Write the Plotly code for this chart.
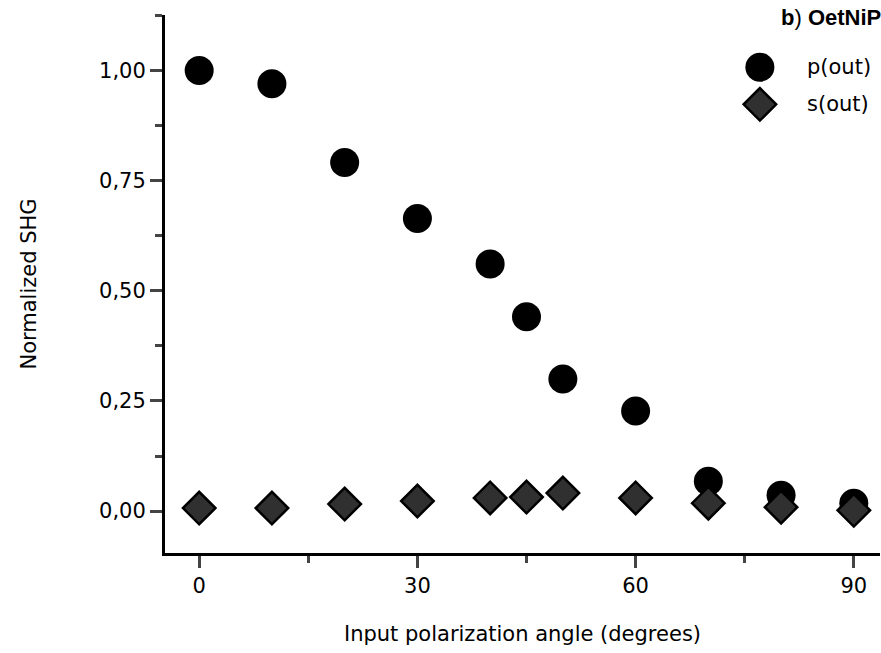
import plotly.graph_objects as go

angles = [0, 10, 20, 30, 40, 45, 50, 60, 70, 80, 90]
p_out = [1.00, 0.970, 0.791, 0.664, 0.561, 0.441, 0.300, 0.227, 0.068, 0.036, 0.018]
s_out = [0.007, 0.007, 0.016, 0.023, 0.030, 0.032, 0.041, 0.030, 0.018, 0.009, 0.002]

x_ticks = [0, 30, 60, 90]
y_ticks = [0.0, 0.25, 0.5, 0.75, 1.0]
y_tick_text = ["0,00", "0,25", "0,50", "0,75", "1,00"]

series_names = ["p(out)", "s(out)"]
legend_title = "<b>b</b>) <b>OetNiP</b>"

FONT = "DejaVu Sans, Liberation Sans, Arial, sans-serif"
circle_style = dict(symbol="circle", size=29, color="black", line=dict(width=0))
diamond_style = dict(symbol="diamond", size=25, color="#303030", line=dict(width=2.5, color="black"))

fig = go.Figure()
fig.add_trace(go.Scatter(x=angles, y=p_out, mode="markers", name=series_names[0],
                         marker=circle_style, showlegend=False))
fig.add_trace(go.Scatter(x=angles, y=s_out, mode="markers", name=series_names[1],
                         marker=diamond_style, showlegend=False))

# legend key symbols drawn on a hidden overlay axis (0..1 in plot-area fractions)
leg_x = 0.832
leg_y = [0.903, 0.834]
fig.add_trace(go.Scatter(x=[leg_x], y=[leg_y[0]], mode="markers", marker=circle_style,
                         xaxis="x2", yaxis="y2", showlegend=False, hoverinfo="skip"))
fig.add_trace(go.Scatter(x=[leg_x], y=[leg_y[1]], mode="markers", marker=diamond_style,
                         xaxis="x2", yaxis="y2", showlegend=False, hoverinfo="skip"))

annotations = [
    dict(text=legend_title, x=0.859, y=0.995, xref="paper", yref="paper",
         xanchor="left", yanchor="middle", showarrow=False,
         font=dict(size=22, family="Liberation Sans, Arial, sans-serif")),
]
for name, yy in zip(series_names, leg_y):
    annotations.append(dict(text=name, x=0.895, y=yy, xref="paper", yref="paper",
                            xanchor="left", yanchor="middle", showarrow=False,
                            font=dict(size=21)))

fig.update_layout(
    width=881, height=653,
    margin=dict(l=165, r=1, t=15, b=100),
    paper_bgcolor="white", plot_bgcolor="white",
    font=dict(family=FONT, size=21, color="black"),
    showlegend=False,
    annotations=annotations,
    xaxis2=dict(overlaying="x", range=[0, 1], visible=False),
    yaxis2=dict(overlaying="y", range=[0, 1], visible=False),
)
fig.layout.xaxis.update(
    range=[-4.7, 93.6], tickvals=x_ticks, ticks="outside", ticklen=12, tickwidth=2.5,
    showline=True, linewidth=3, linecolor="black", showgrid=False, zeroline=False,
    automargin=False,
    minor=dict(dtick=15, tick0=0, ticks="outside", ticklen=7, tickwidth=2.5, showgrid=False),
    title=dict(text="Input polarization angle (degrees)", font=dict(size=21), standoff=30),
    tickfont=dict(size=21),
)
fig.layout.yaxis.update(
    range=[-0.095, 1.126], tickvals=y_ticks, ticktext=y_tick_text, ticks="outside",
    ticklen=12, tickwidth=2.5,
    showline=True, linewidth=3, linecolor="black", showgrid=False, zeroline=False,
    automargin=False,
    minor=dict(dtick=0.125, tick0=0, ticks="outside", ticklen=7, tickwidth=2.5, showgrid=False),
    title=dict(text="Normalized SHG", font=dict(size=21), standoff=57),
    tickfont=dict(size=21),
)

fig.write_html("out.html", config={"displayModeBar": False},
               post_script="document.body.style.margin='0px';")
